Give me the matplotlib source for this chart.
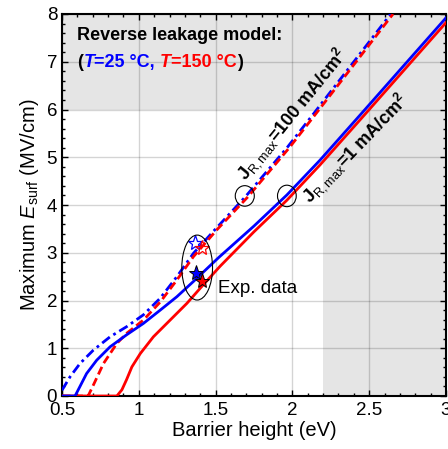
import numpy as np
import matplotlib
matplotlib.use('Agg')
import matplotlib.pyplot as plt
from matplotlib.patches import Ellipse
from matplotlib.ticker import MultipleLocator, FormatStrFormatter

plt.rcParams['font.family'] = ['Liberation Sans', 'DejaVu Sans']
plt.rcParams['mathtext.fontset'] = 'custom'
plt.rcParams['mathtext.rm'] = 'Liberation Sans'
plt.rcParams['mathtext.it'] = 'Liberation Sans:italic'
plt.rcParams['mathtext.bf'] = 'Liberation Sans:bold'

# J_R,max = 1 mA/cm2, T = 25 C (blue solid)
b1_x = [0.50, 0.585, 0.617, 0.66, 0.726, 0.813, 0.92, 1.03, 1.14, 1.248, 1.356, 1.52, 1.75, 1.964, 2.18, 2.47, 3.0]
b1_y = [0.0, 0.0, 0.2, 0.47, 0.75, 1.03, 1.28, 1.52, 1.80, 2.08, 2.40, 2.90, 3.56, 4.21, 4.94, 5.99, 7.92]
# J_R,max = 1 mA/cm2, T = 150 C (red solid)
r1_x = [0.50, 0.857, 0.89, 0.92, 0.955, 1.01, 1.095, 1.204, 1.313, 1.42, 1.53, 1.75, 1.964, 2.18, 2.47, 3.0]
r1_y = [0.0, 0.0, 0.13, 0.34, 0.61, 0.89, 1.24, 1.59, 1.94, 2.33, 2.72, 3.44, 4.10, 4.84, 5.89, 7.82]
# J_R,max = 100 mA/cm2, T = 25 C (blue dash-dot)
b100_x = [0.50, 0.552, 0.617, 0.704, 0.813, 0.92, 1.03, 1.14, 1.248, 1.356, 1.486, 1.693, 1.965, 2.14, 2.40, 2.64]
b100_y = [0.12, 0.40, 0.68, 0.96, 1.24, 1.45, 1.70, 2.05, 2.50, 2.99, 3.45, 4.17, 5.20, 5.92, 7.0, 8.0]
# J_R,max = 100 mA/cm2, T = 150 C (red dashed)
r100_x = [0.50, 0.67, 0.70, 0.77, 0.857, 0.92, 1.03, 1.14, 1.248, 1.356, 1.508, 1.71, 1.98, 2.155, 2.415, 2.655]
r100_y = [0.0, 0.0, 0.2, 0.68, 1.10, 1.31, 1.59, 1.97, 2.43, 2.92, 3.48, 4.17, 5.2, 5.92, 7.0, 8.0]

# experimental points
exp_open_x = [1.367, 1.41]
exp_open_y = [3.20, 3.09]
exp_fill_x = [1.373, 1.41]
exp_fill_y = [2.58, 2.41]

blue = '#0000ff'
red = '#ff0000'

fig = plt.figure(figsize=(4.48, 4.49), dpi=100)
ax = fig.add_axes([62/448, 53/449, 384/448, 382/449])

ax.axhspan(6, 8, color='#e5e5e5', zorder=0, lw=0)
ax.axvspan(2.2, 3, color='#e5e5e5', zorder=0, lw=0)

ax.plot(b100_x, b100_y, color=blue, lw=2, ls=(0, (3.5, 1.5, 1, 1.5)), zorder=3)
ax.plot(r100_x, r100_y, color=red, lw=2, ls=(0, (3, 1.5)), zorder=3)
ax.plot(r1_x, r1_y, color=red, lw=2, zorder=3)
ax.plot(b1_x, b1_y, color=blue, lw=2, zorder=3)

ax.plot(exp_open_x[0], exp_open_y[0], marker='*', ms=11, mfc='none', mec=blue, mew=0.9, zorder=4)
ax.plot(exp_open_x[1], exp_open_y[1], marker='*', ms=11, mfc='none', mec=red, mew=0.9, zorder=4)
ax.plot(exp_fill_x[0], exp_fill_y[0], marker='*', ms=11, mfc=blue, mec='k', mew=0.7, zorder=4)
ax.plot(exp_fill_x[1], exp_fill_y[1], marker='*', ms=11, mfc=red, mec='k', mew=0.7, zorder=4)

for (cx, cy, w, h) in [(1.38, 2.69, 0.2, 1.36), (1.69, 4.19, 0.124, 0.43), (1.964, 4.19, 0.122, 0.45)]:
    ax.add_patch(Ellipse((cx, cy), w, h, fill=False, ec='k', lw=0.8, zorder=5))

ax.text(1.515, 2.26, 'Exp. data', fontsize=13.5, va='center', ha='left')

ax.text(2.0, 5.9, r'$\mathbf{J}_{\mathrm{R,max}}$=100 mA/cm$^{\mathbf{2}}$', fontsize=13, fontweight='bold',
        rotation=51, rotation_mode='anchor', ha='center', va='center')
ax.text(2.41, 5.2, r'$\mathbf{J}_{\mathrm{R,max}}$=1 mA/cm$^{\mathbf{2}}$', fontsize=13, fontweight='bold',
        rotation=46, rotation_mode='anchor', ha='center', va='center')

ax.text(0.6, 7.54, 'Reverse leakage model:', fontsize=13, fontweight='bold', va='center', ha='left')
pieces = [('(', 'k', 'normal'), ('T', blue, 'italic'), ('=25 °C, ', blue, 'normal'),
          ('T', red, 'italic'), ('=150 °C', red, 'normal'), (')', 'k', 'normal')]
prev = ax.text(0.6, 6.98, pieces[0][0], color=pieces[0][1], fontsize=13, fontweight='bold',
               va='center', ha='left')
for txt, col, sty in pieces[1:]:
    prev = ax.annotate(txt, xy=(1, 0), xycoords=prev, color=col, fontsize=13, fontweight='bold',
                       fontstyle=sty, va='bottom', ha='left')

ax.set_xlim(0.5, 3)
ax.set_ylim(0, 8)
ax.xaxis.set_major_locator(MultipleLocator(0.5))
ax.xaxis.set_minor_locator(MultipleLocator(0.1))
ax.yaxis.set_major_locator(MultipleLocator(1))
ax.yaxis.set_minor_locator(MultipleLocator(0.2))
ax.xaxis.set_major_formatter(FormatStrFormatter('%g'))
ax.grid(True, which='major', color='k', alpha=0.17, lw=1)
ax.set_axisbelow(True)
ax.tick_params(which='both', direction='in', top=True, right=True, labelsize=13.5, width=1)
ax.tick_params(which='major', length=4)
ax.tick_params(which='minor', length=2.5)
ax.tick_params(axis='x', pad=4)
for s in ax.spines.values():
    s.set_linewidth(1.5)

ax.set_xlabel('Barrier height (eV)', fontsize=14.5, labelpad=2)
ax.set_ylabel(r'Maximum $E_{\mathrm{surf}}$ (MV/cm)', fontsize=14.5, labelpad=4)

plt.savefig('out.png', dpi=100)
